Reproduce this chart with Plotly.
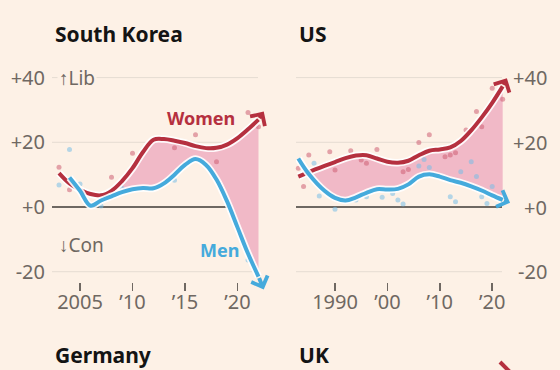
import plotly.graph_objects as go

# ---------------- data ----------------
# South Korea (smoothed trend, last value = arrow tip)
sk_women_years = [2003, 2004, 2005, 2006, 2007, 2008, 2009, 2010, 2011, 2012, 2013,
                  2014, 2015, 2016, 2017, 2018, 2019, 2020, 2021, 2022, 2022.5]
sk_women = [10.5, 7.3, 5.3, 4.0, 3.6, 5.0, 8.0, 12.0, 17.0, 20.8, 21.0,
            20.5, 19.8, 18.8, 18.2, 18.3, 19.3, 21.3, 24.0, 27.0, 29.5]
sk_men_years = [2004, 2005, 2006, 2007, 2008, 2009, 2010, 2011, 2012, 2013,
                2014, 2015, 2016, 2017, 2018, 2019, 2020, 2021, 2022, 2022.5]
sk_men = [9.1, 5.0, 0.4, 2.0, 3.3, 4.6, 5.5, 5.9, 5.8, 7.3,
          10.0, 13.0, 14.8, 13.0, 8.5, 1.8, -6.3, -14.4, -21.5, -25.5]
sk_fill_from = 2009

# South Korea yearly survey points
sk_women_dot_years = [2003, 2004, 2008, 2010, 2014, 2016, 2018, 2021, 2022]
sk_women_dots = [12.3, 5.3, 9.2, 16.6, 18.3, 22.3, 14.0, 29.2, 24.8]
sk_men_dot_years = [2003, 2004, 2005, 2007, 2009, 2014, 2021]
sk_men_dots = [6.8, 17.8, 7.1, 0.3, 5.8, 8.3, -16.4]

# US (smoothed trend, last value = arrow tip)
us_women_years = [1983, 1985, 1988, 1990, 1992, 1994, 1996, 1998, 2000, 2002, 2004,
                  2006, 2008, 2010, 2012, 2014, 2016, 2018, 2020, 2022, 2022.8]
us_women = [9.4, 10.8, 12.7, 13.9, 15.1, 15.9, 16.0, 15.0, 14.0, 13.7, 14.3,
            16.0, 17.4, 17.8, 18.4, 20.4, 23.7, 27.7, 32.2, 37.3, 39.8]
us_men_years = [1983, 1985, 1988, 1990, 1992, 1994, 1996, 1998, 2000, 2002, 2004,
                2006, 2008, 2010, 2012, 2014, 2016, 2018, 2020, 2022, 2023.4]
us_men = [15.0, 10.2, 5.0, 2.8, 2.0, 3.0, 4.4, 5.5, 5.4, 5.6, 7.0,
          9.4, 10.1, 9.4, 8.3, 7.5, 6.4, 5.1, 3.6, 2.2, 1.3]
us_fill_from = 1983

us_women_dot_years = [1983, 1984, 1985, 1989, 1990, 1993, 1995, 1996, 1998, 2003, 2004,
                      2006, 2008, 2011, 2012, 2013, 2015, 2017, 2018, 2020, 2022]
us_women_dots = [12.0, 6.3, 16.1, 17.1, 11.4, 17.4, 14.5, 13.5, 17.8, 10.9, 11.6,
                 19.9, 22.3, 15.5, 16.1, 16.8, 23.8, 29.5, 24.8, 36.7, 33.3]
us_men_dot_years = [1986, 1987, 1990, 1994, 1996, 1999, 2001, 2002, 2003, 2006,
                    2007, 2008, 2012, 2013, 2014, 2016, 2017, 2018, 2019, 2020]
us_men_dots = [13.5, 3.4, -0.7, 2.2, 3.2, 3.0, 4.2, 2.2, 0.9, 12.7,
               14.7, 12.2, 3.2, 1.6, 10.9, 14.0, 9.4, 3.2, 1.1, 6.3]

y_ticks = [40, 20, 0, -20]
y_ticklabels = ["+40", "+20", "+0", "-20"]
sk_xticks = [2005, 2010, 2015, 2020]
sk_xticklabels = ["2005", "\u201910", "\u201915", "\u201920"]
us_xticks = [1990, 2000, 2010, 2020]
us_xticklabels = ["1990", "\u201900", "\u201910", "\u201920"]

# ---------------- style ----------------
W, H = 560, 370
BG = "#fdf1e6"
RED = "#b5303f"
BLUE = "#45aadc"
FILL = "#f1b9c7"
RED_DOT = "rgba(205,95,115,0.55)"
BLUE_DOT = "rgba(120,190,230,0.55)"
GRID = "#e5dcd2"
ZERO = "#6e6862"
LABEL = "#6f6862"
FONT = "Noto Sans"


def px2x_sk(p):
    return 2005 + (p - 80) / 10.5


def px2x_us(p):
    return 1990 + (p - 335) / 5.24


def px2y(p):
    return (207 - p) / 3.235


def paper_x(p):
    return p / W


def paper_y(p):
    return 1 - p / H


fig = go.Figure()


def add_panel(xa, ya, wy, wv, my, mv, fill_from, wdy, wdv, mdy, mdv):
    # fill between men and women (only where women are more liberal)
    m_map = dict(zip(my[:-1], mv[:-1]))
    fx = [yr for yr in wy[:-1] if yr in m_map and yr >= fill_from]
    f_low = [m_map[yr] for yr in fx]
    f_up = [max(wv[wy.index(yr)], m_map[yr]) for yr in fx]
    fig.add_trace(go.Scatter(x=fx, y=f_low, mode="lines", line=dict(width=0, shape="spline"),
                             xaxis=xa, yaxis=ya, hoverinfo="skip", showlegend=False))
    fig.add_trace(go.Scatter(x=fx, y=f_up, mode="lines", line=dict(width=0, shape="spline"),
                             fill="tonexty", fillcolor=FILL,
                             xaxis=xa, yaxis=ya, hoverinfo="skip", showlegend=False))
    # survey dots
    fig.add_trace(go.Scatter(x=wdy, y=wdv, mode="markers", marker=dict(size=5, color=RED_DOT),
                             xaxis=xa, yaxis=ya, showlegend=False, cliponaxis=False))
    fig.add_trace(go.Scatter(x=mdy, y=mdv, mode="markers", marker=dict(size=5, color=BLUE_DOT),
                             xaxis=xa, yaxis=ya, showlegend=False, cliponaxis=False))
    # trend lines with halo
    for yrs, vals, col in ((wy, wv, RED), (my, mv, BLUE)):
        fig.add_trace(go.Scatter(x=yrs[:-1], y=vals[:-1], mode="lines",
                                 line=dict(width=7.5, color="rgba(255,255,255,0.9)", shape="spline"),
                                 xaxis=xa, yaxis=ya, hoverinfo="skip", showlegend=False))
        fig.add_trace(go.Scatter(x=yrs[:-1], y=vals[:-1], mode="lines",
                                 line=dict(width=4, color=col, shape="spline"),
                                 xaxis=xa, yaxis=ya, showlegend=False))
        fig.add_annotation(x=yrs[-1], y=vals[-1], xref=xa, yref=ya,
                           ax=yrs[-2], ay=vals[-2], axref=xa, ayref=ya,
                           showarrow=True, arrowhead=4, arrowsize=0.85, arrowwidth=4,
                           arrowcolor=col, text="", standoff=0)


add_panel("x", "y", sk_women_years, sk_women, sk_men_years, sk_men, sk_fill_from,
          sk_women_dot_years, sk_women_dots, sk_men_dot_years, sk_men_dots)
add_panel("x2", "y2", us_women_years, us_women, us_men_years, us_men, us_fill_from,
          us_women_dot_years, us_women_dots, us_men_dot_years, us_men_dots)

# gridlines
for xa, ya, x0, x1 in (("x", "y", px2x_sk(52), px2x_sk(258)),
                       ("x2", "y2", px2x_us(296), px2x_us(502))):
    for v in y_ticks:
        fig.add_shape(type="line", xref=xa, yref=ya, x0=x0, x1=x1, y0=v, y1=v,
                      line=dict(color=ZERO if v == 0 else GRID, width=2 if v == 0 else 1),
                      layer="below")

# right-hand y labels for US
for v, t in zip(y_ticks, y_ticklabels):
    fig.add_annotation(x=paper_x(549), xref="paper", xanchor="right", y=v, yref="y2",
                       text=t, showarrow=False, font=dict(family=FONT, size=20, color=LABEL))

tickfont = dict(family=FONT, size=20, color=LABEL)
ydom = [paper_y(300), paper_y(60)]
yrange = [px2y(300), px2y(60)]

fig.update_layout(
    width=W, height=H, margin=dict(l=0, r=0, t=0, b=0),
    paper_bgcolor=BG, plot_bgcolor=BG, showlegend=False,
    xaxis=dict(domain=[paper_x(52), paper_x(272)], range=[px2x_sk(52), px2x_sk(272)],
               anchor="free", position=paper_y(282), tickvals=sk_xticks, ticktext=sk_xticklabels,
               ticks="outside", ticklen=8, tickwidth=1.5, tickcolor=LABEL, ticklabelstandoff=-6,
               showgrid=False, zeroline=False, showline=False, tickfont=tickfont),
    yaxis=dict(domain=ydom, range=yrange, anchor="free", position=paper_x(45),
               tickvals=y_ticks, ticktext=y_ticklabels, ticks="",
               showgrid=False, zeroline=False, showline=False, tickfont=tickfont),
    xaxis2=dict(domain=[paper_x(296), paper_x(520)], range=[px2x_us(296), px2x_us(520)],
                anchor="free", position=paper_y(282), tickvals=us_xticks, ticktext=us_xticklabels,
                ticks="outside", ticklen=8, tickwidth=1.5, tickcolor=LABEL, ticklabelstandoff=-6,
                showgrid=False, zeroline=False, showline=False, tickfont=tickfont),
    yaxis2=dict(domain=ydom, range=yrange, anchor="x2", visible=False),
)

# text labels
titles = [("South Korea", 53, 34), ("US", 297, 34), ("Germany", 53, 355), ("UK", 297, 355)]
for t, px, py in titles:
    fig.add_annotation(x=paper_x(px), y=paper_y(py), xref="paper", yref="paper",
                       xanchor="left", yanchor="middle", text=t, showarrow=False,
                       font=dict(family=FONT, size=21, color="#141414", weight=700))

fig.add_annotation(x=px2x_sk(57), y=40, xref="x", yref="y", xanchor="left", yanchor="middle",
                   text="\u2191Lib", showarrow=False, bgcolor=BG, borderpad=1,
                   font=dict(family=FONT, size=19, color=LABEL))
fig.add_annotation(x=px2x_sk(57), y=px2y(245), xref="x", yref="y", xanchor="left", yanchor="middle",
                   text="\u2193Con", showarrow=False,
                   font=dict(family=FONT, size=19, color=LABEL))
fig.add_annotation(x=px2x_sk(201), y=px2y(118), xref="x", yref="y", text="Women", showarrow=False,
                   font=dict(family=FONT, size=18, color=RED, weight=700))
fig.add_annotation(x=px2x_sk(219), y=px2y(250), xref="x", yref="y", text="Men", showarrow=False,
                   font=dict(family=FONT, size=18, color=BLUE, weight=700))

# arm of the arrowhead of the next (cropped) UK panel peeking in at the bottom edge
fig.add_shape(type="line", xref="paper", yref="paper",
              x0=paper_x(500), y0=paper_y(362), x1=paper_x(512), y1=paper_y(374),
              line=dict(color=RED, width=4))

fig.write_html("out.html", config={"displayModeBar": False, "staticPlot": True},
               post_script="document.body.style.margin='0';document.body.style.padding='0';")
